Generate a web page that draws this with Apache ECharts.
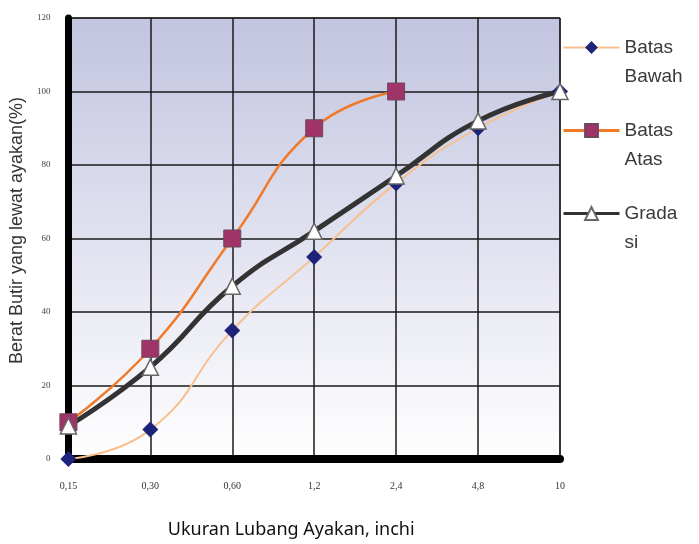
<!DOCTYPE html>
<html><head><meta charset="utf-8">
<script src="https://cdn.jsdelivr.net/npm/echarts@6/dist/echarts.min.js"></script>
<style>html,body{margin:0;padding:0;background:#fff}#c{width:699px;height:544px}</style>
</head><body><div id="c"></div>
<script>
const categories = ['0,15','0,30','0,60','1,2','2,4','4,8','10'];
const batasBawah = [0, 8, 35, 55, 75, 90, 100];
const batasAtas = [10, 30, 60, 90, 100, null, null];
const gradasi = [9, 25, 47, 62, 77, 92, 100];
const yTicks = {min: 0, max: 120, interval: 20};
const legendLabels = {'Batas Bawah': '\nBatas\nBawah', 'Batas Atas': '\nBatas\nAtas', 'Gradasi': '\nGrada\nsi'};

const chart = echarts.init(document.getElementById('c'));
chart.setOption({
  animation: false,
  grid: {
    left: 67, right: 139, top: 18, bottom: 84,
    show: true,
    borderColor: '#222', borderWidth: 1,
    backgroundColor: new echarts.graphic.LinearGradient(0, 0, 0, 1, [
      {offset: 0, color: '#c2c4e0'},
      {offset: 1, color: '#ffffff'}
    ])
  },
  legend: {
    orient: 'vertical',
    left: 562, top: 4, padding: 0,
    itemWidth: 56, itemHeight: 16,
    itemGap: -4,
    data: [
      {name: 'Batas Bawah', lineStyle: {width: 2}},
      {name: 'Batas Atas', lineStyle: {width: 3}},
      {name: 'Gradasi', lineStyle: {width: 3}}
    ],
    formatter: function (n) { return legendLabels[n]; },
    textStyle: {fontFamily: 'Liberation Sans', fontSize: 19, color: '#3a3a3a', lineHeight: 29}
  },
  xAxis: {
    type: 'category', data: categories, boundaryGap: false,
    name: 'Ukuran Lubang Ayakan, inchi', nameLocation: 'middle', nameGap: 62,
    nameTextStyle: {fontFamily: 'Noto Sans', fontSize: 18, color: '#111', padding: [0, 46, 0, 0]},
    axisLine: {lineStyle: {color: '#000', width: 8}},
    axisTick: {show: false},
    axisLabel: {margin: 22, fontFamily: 'Liberation Serif', fontSize: 10, color: '#333'},
    splitLine: {show: true, lineStyle: {color: '#1a1a1a', width: 1.5}}
  },
  yAxis: {
    type: 'value', min: yTicks.min, max: yTicks.max, interval: yTicks.interval,
    name: 'Berat Butir yang lewat ayakan(%)', nameLocation: 'middle', nameGap: 42,
    nameTextStyle: {fontFamily: 'Liberation Sans', fontSize: 18, color: '#333', padding: [0, 0, 0, 16]},
    axisLine: {show: true, lineStyle: {color: '#000', width: 7}},
    axisTick: {show: false},
    axisLabel: {margin: 18, fontFamily: 'Liberation Serif', fontSize: 9, color: '#444'},
    splitLine: {show: true, lineStyle: {color: '#1a1a1a', width: 1.5}}
  },
  series: [
    {
      name: 'Batas Bawah', type: 'line', data: batasBawah, smooth: 0.5,
      symbol: 'diamond', symbolSize: 16,
      lineStyle: {color: '#f8c08e', width: 2},
      itemStyle: {color: '#1e237a', borderColor: '#1e237a', borderWidth: 0}
    },
    {
      name: 'Batas Atas', type: 'line', data: batasAtas, smooth: 0.5,
      symbol: 'rect', symbolSize: 17,
      lineStyle: {color: '#f07a28', width: 2.5},
      itemStyle: {color: '#a03468', borderColor: '#6a4a5a', borderWidth: 1}
    },
    {
      name: 'Gradasi', type: 'line', data: gradasi, smooth: 0.5,
      symbol: 'triangle', symbolSize: 16,
      lineStyle: {color: '#333333', width: 5},
      itemStyle: {color: '#ffffff', borderColor: '#666', borderWidth: 1.5}
    }
  ]
});
</script></body></html>
